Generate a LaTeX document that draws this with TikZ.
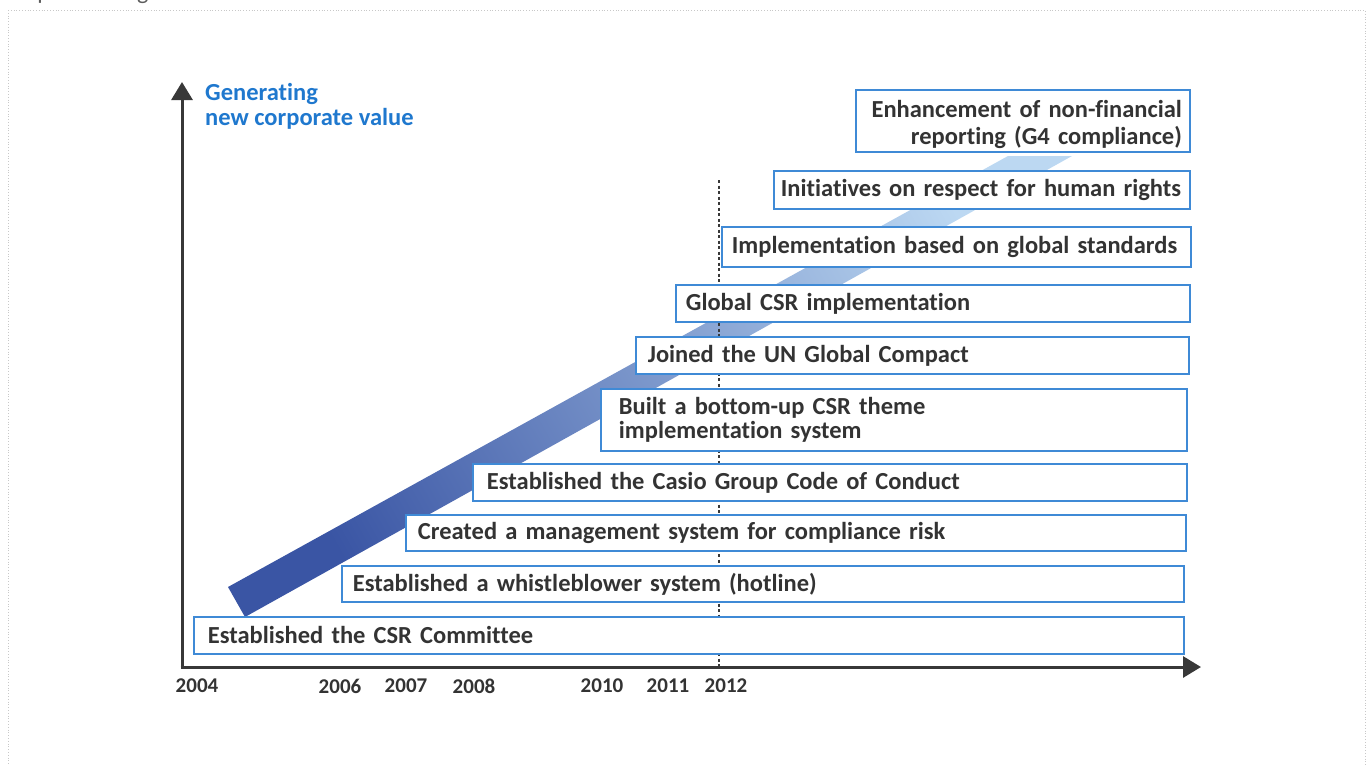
\documentclass[tikz,border=0pt]{standalone}
\usepackage{fontspec}
\setmainfont[Ligatures=NoCommon]{Carlito}
\usetikzlibrary{arrows.meta}
\definecolor{axisgray}{HTML}{383838}
\definecolor{txtgray}{HTML}{333333}
\definecolor{boxblue}{HTML}{3F8AD6}
\definecolor{labelblue}{HTML}{1F78CE}
\definecolor{banddark}{HTML}{3A55A4}
\definecolor{bandlight}{HTML}{BCD8F2}
\definecolor{framegray}{HTML}{C8C8C8}
\newcommand\evbox[8][]{%
  \pgfmathsetmacro\bw{#5-#3}\pgfmathsetmacro\bh{#6-#4}\pgfmathsetmacro\tw{#5-#3-2*#7}%
  \node[evb, anchor=north west, minimum width=\bw pt, minimum height=\bh pt,
        text width=\tw pt, inner xsep=#7 pt, #1] (#2) at (#3,#4) {#8};}
\begin{document}
\begin{tikzpicture}[x=1pt,y=-1pt,
  evb/.style={draw=boxblue, line width=1.8pt, fill=white, align=left, inner ysep=0pt,
    text=txtgray, font=\fontsize{24.5}{24}\selectfont\bfseries},
  axisline/.style={draw=axisgray, line width=3pt},
  axistip/.style={-{Triangle[width=21pt,length=18pt]}},
  yearlbl/.style={text=txtgray, font=\fontsize{21}{22}\selectfont\bfseries, inner sep=0pt},
  guide/.style={draw=axisgray, line width=1.4pt, dash pattern=on 3pt off 2.5pt},
  frame/.style={draw=framegray, line width=0.8pt, dotted}]
\useasboundingbox (0,0) rectangle (1369,766);
% page frame and cut-off title
\draw[frame] (8,10) -- (8,780) (8,10) -- (1365,10) -- (1365,780);
\node[anchor=base west, inner sep=0pt, text=txtgray!80, font=\fontsize{24}{26}\selectfont] (title) at (12,-1) {Implementing CSR Initiatives};
% rising band
\coordinate (bA) at (228,587);
\coordinate (bB) at (245,617);
\coordinate (bC) at (1072,156);
\coordinate (bD) at (1008,156);
\shade[top color=bandlight, bottom color=banddark, shading angle=-61] (bA) -- (bB) -- (bC) -- (bD) -- cycle;
% 2012 guide
\coordinate (g1) at (719,180);
\coordinate (g2) at (719,667);
\draw[guide] (g1) -- (g2);
% axes
\coordinate (O) at (182,667);
\coordinate (Ytip) at (182,82);
\coordinate (Xtip) at (1201,667);
\draw[axisline, axistip] (O) -- (Ytip);
\draw[axisline, axistip] ([xshift=-1.5pt]O) -- (Xtip);
\node[anchor=north west, align=left, inner sep=0pt, text=labelblue,
      font=\fontsize{24.5}{25}\selectfont\bfseries] (ylabel) at (205,83) {Generating\\new corporate value};
% boxes
\evbox{b1}{193}{616}{1183}{653}{14}{Established the CSR Committee}
\evbox{b2}{341}{565}{1183}{601}{11}{Established a whistleblower system (hotline)}
\evbox{b3}{405}{514}{1185}{550}{12}{Created a management system for compliance risk}
\evbox{b4}{472}{463}{1186}{500}{14}{Established the Casio Group Code of Conduct}
\evbox{b5}{600}{388}{1186}{450}{18}{Built a bottom-up CSR theme\\implementation system}
\evbox{b6}{635}{336}{1188}{373}{12}{Joined the UN Global Compact}
\evbox{b7}{675}{284}{1189}{321}{10}{Global CSR implementation}
\evbox{b8}{721}{226}{1190}{266}{10}{Implementation based on global standards}
\evbox{b9}{773}{170}{1189}{208}{7}{Initiatives on respect for human rights}
\evbox[align=right, font=\fontsize{24.5}{27}\selectfont\bfseries]{b10}{855}{89}{1189}{151}{8}{\rule{0pt}{24pt}Enhancement of non-financial\\reporting (G4 compliance)}
% years
\node[yearlbl] (y2004) at (197,686) {2004};
\node[yearlbl] (y2006) at (340,686) {2006};
\node[yearlbl] (y2007) at (406,686) {2007};
\node[yearlbl] (y2008) at (474,686) {2008};
\node[yearlbl] (y2010) at (602,686) {2010};
\node[yearlbl] (y2011) at (668,686) {2011};
\node[yearlbl] (y2012) at (726,686) {2012};
\end{tikzpicture}
\end{document}
